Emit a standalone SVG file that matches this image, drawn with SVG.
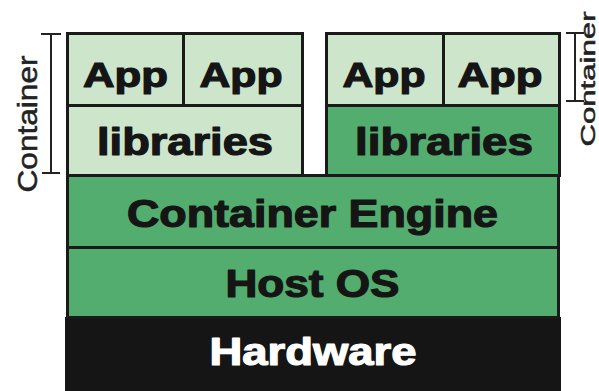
<svg xmlns="http://www.w3.org/2000/svg" width="599" height="391" viewBox="0 0 599 391">
  <style>
    .light { fill: #cde6cb; stroke: #1a1a1a; stroke-width: 3; }
    .mid { fill: #52ad6e; stroke: #1a1a1a; stroke-width: 3; }
    .hw { fill: #151515; }
    .lbl { font-family: "Liberation Sans", Arial, sans-serif; font-weight: bold; text-anchor: middle; fill: #151515; stroke: #151515; stroke-width: 1.2; stroke-linejoin: round; }
    .big { font-size: 38px; }
    .app { font-size: 35px; }
    .white { fill: #ffffff; stroke: #ffffff; }
    .side { font-family: "Liberation Sans", Arial, sans-serif; text-anchor: middle; fill: #222222; stroke: #222222; stroke-width: 0.5; }
    .brk { stroke: #222222; stroke-width: 2; fill: none; }
  </style>
  <rect width="599" height="391" fill="#ffffff"/>

  <!-- stack layers -->
  <g id="hardware">
    <rect class="hw" x="65" y="317" width="496" height="74"/>
    <text class="lbl big white" x="313" y="365" textLength="207" lengthAdjust="spacingAndGlyphs">Hardware</text>
  </g>
  <g id="host-os">
    <rect class="mid" x="67.5" y="247.5" width="491" height="70"/>
    <text class="lbl big" x="312.5" y="297" textLength="174" lengthAdjust="spacingAndGlyphs">Host OS</text>
  </g>
  <g id="container-engine">
    <rect class="mid" x="67.5" y="175.5" width="491" height="72"/>
    <text class="lbl big" x="312.5" y="227" textLength="371" lengthAdjust="spacingAndGlyphs">Container Engine</text>
  </g>

  <!-- left container -->
  <g id="left-libraries">
    <rect class="light" x="67.5" y="105.5" width="235" height="70"/>
    <text class="lbl big" x="185" y="155" textLength="176" lengthAdjust="spacingAndGlyphs">libraries</text>
  </g>
  <g id="left-app-1">
    <rect class="light" x="67.5" y="33.5" width="116" height="72"/>
    <text class="lbl app" x="125.5" y="87" textLength="85" lengthAdjust="spacingAndGlyphs">App</text>
  </g>
  <g id="left-app-2">
    <rect class="light" x="183.5" y="33.5" width="119" height="72"/>
    <text class="lbl app" x="241" y="87" textLength="83" lengthAdjust="spacingAndGlyphs">App</text>
  </g>

  <!-- right container -->
  <g id="right-libraries">
    <rect class="mid" x="326.5" y="105.5" width="233" height="70"/>
    <text class="lbl big" x="444" y="155" textLength="178" lengthAdjust="spacingAndGlyphs">libraries</text>
  </g>
  <g id="right-app-1">
    <rect class="light" x="326.5" y="33.5" width="117" height="72"/>
    <text class="lbl app" x="384" y="87" textLength="83" lengthAdjust="spacingAndGlyphs">App</text>
  </g>
  <g id="right-app-2">
    <rect class="light" x="443.5" y="33.5" width="116" height="72"/>
    <text class="lbl app" x="500" y="87" textLength="85" lengthAdjust="spacingAndGlyphs">App</text>
  </g>

  <!-- container extent brackets -->
  <g id="connectors">
    <path class="brk" d="M41 34 H61 M51 34 V173 M42 173 H60"/>
    <path class="brk" d="M566 33 H584 M575 33 V101 M566 101 H584"/>
  </g>
  <g id="left-container-label">
    <text class="side" font-size="28" transform="translate(37,124) rotate(-90)" textLength="137" lengthAdjust="spacingAndGlyphs">Container</text>
  </g>
  <g id="right-container-label">
    <text class="side" font-size="20" transform="translate(595,79) rotate(-90)" textLength="135" lengthAdjust="spacingAndGlyphs">Container</text>
  </g>
</svg>
